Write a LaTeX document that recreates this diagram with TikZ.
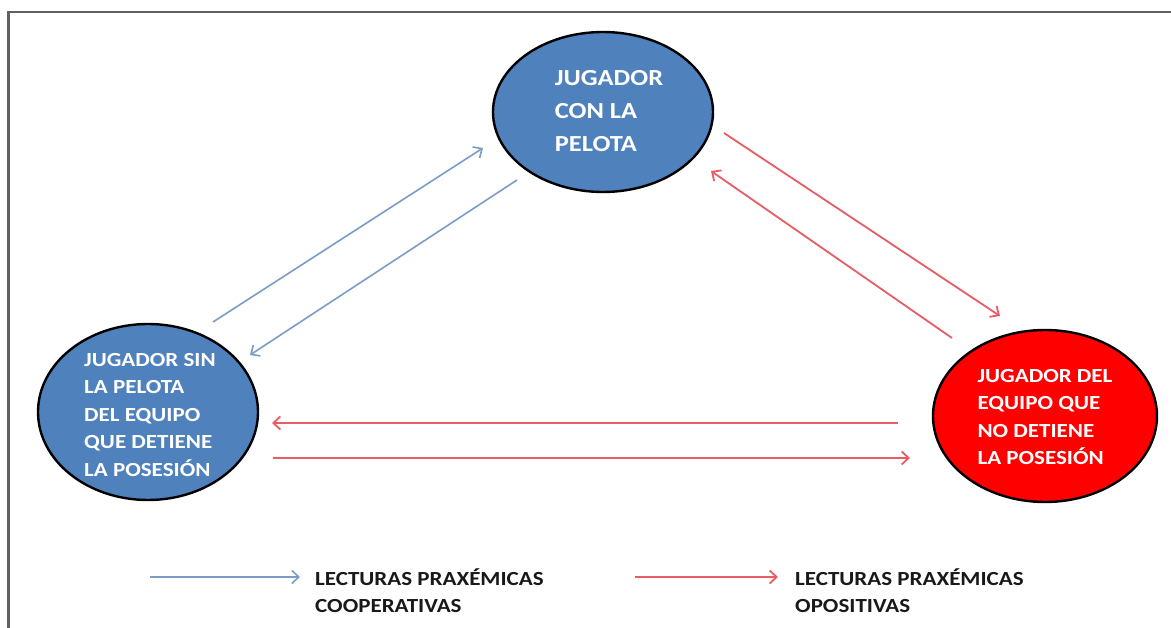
\documentclass[tikz,border=0pt]{standalone}
\usepackage{fontspec}
\setmainfont{Carlito}
\newfontfamily\calb[FakeStretch=1.15]{Carlito}
\usetikzlibrary{arrows.meta,calc,shapes.geometric}
\definecolor{ellblue}{RGB}{79,129,189}
\definecolor{ellred}{RGB}{255,0,0}
\definecolor{arrblue}{RGB}{122,156,200}
\definecolor{arrred}{RGB}{232,92,100}
\definecolor{frame}{RGB}{96,96,96}
\definecolor{legtext}{RGB}{25,25,25}
\tikzset{
  ell/.style={ellipse, draw=black, line width=2.4pt, inner sep=0pt},
  bigtxt/.style={align=left, inner sep=0pt, text=white, font=\calb\bfseries\fontsize{23}{33}\selectfont},
  smalltxt/.style={align=left, inner sep=0pt, text=white, font=\calb\bfseries\fontsize{20}{27.5}\selectfont},
  legtxt/.style={align=left, inner sep=0pt, text=legtext, anchor=west, font=\calb\bfseries\fontsize{20}{27}\selectfont},
  coop/.style={draw=arrblue, line width=1.6pt, -{Straight Barb[length=7pt,width=13pt]}},
  opos/.style={draw=arrred, line width=1.8pt, -{Straight Barb[length=7pt,width=13pt]}},
}
\begin{document}
\begin{tikzpicture}[x=1pt,y=1pt]
\useasboundingbox (0,0) rectangle (1171,-628);
\fill[white] (0,0) rectangle (1171,-628);
% frame (top and left edges visible)
\draw[frame, line width=2.5pt] (8.5,-640) -- (8.5,-12) -- (1180,-12);

% ellipses
\node[ell, fill=ellblue, minimum width=220pt, minimum height=160pt] (T) at (603,-112) {};
\node[ell, fill=ellblue, minimum width=220pt, minimum height=176pt] (L) at (148,-412) {};
\node[ell, fill=ellred, minimum width=224pt, minimum height=172pt] (R) at (1045,-416) {};

\node[bigtxt] (Tt) at ($(T)+(6,1)$) {JUGADOR\\CON LA\\PELOTA};
\node[smalltxt] (Lt) at ($(L)+(2,-3)$) {JUGADOR SIN\\LA PELOTA\\DEL EQUIPO\\QUE DETIENE\\LA POSESIÓN};
\node[smalltxt] (Rt) at ($(R)+(0,-1)$) {JUGADOR DEL\\EQUIPO QUE\\NO DETIENE\\LA POSESIÓN};

% connector end points
\coordinate (c1s) at ($(L)+(65,90)$);
\coordinate (c1e) at ($(T)+(-120,-36)$);
\coordinate (c2s) at ($(T)+(-86,-68)$);
\coordinate (c2e) at ($(L)+(102,57)$);
\coordinate (r1s) at ($(T)+(121,-21)$);
\coordinate (r1e) at ($(R)+(-45,100)$);
\coordinate (r2s) at ($(R)+(-93,78)$);
\coordinate (r2e) at ($(T)+(108,-59)$);
\coordinate (r3s) at ($(R)+(-147,-7)$);
\coordinate (r3e) at ($(L)+(124,-11)$);
\coordinate (r4s) at ($(L)+(125,-46)$);
\coordinate (r4e) at ($(R)+(-135,-42)$);

\draw[coop] (c1s) -- (c1e);
\draw[coop] (c2s) -- (c2e);
\draw[opos] (r1s) -- (r1e);
\draw[opos] (r2s) -- (r2e);
\draw[opos] (r3s) -- (r3e);
\draw[opos] (r4s) -- (r4e);

% legend
\node[legtxt] (lg1) at (315,-591) {LECTURAS PRAXÉMICAS\\COOPERATIVAS};
\node[legtxt] (lg2) at (795,-591) {LECTURAS PRAXÉMICAS\\OPOSITIVAS};
\coordinate (lb1) at ($(lg1.west)+(-165,14)$);
\coordinate (lb2) at ($(lg1.west)+(-15,14)$);
\coordinate (lr1) at ($(lg2.west)+(-160,14)$);
\coordinate (lr2) at ($(lg2.west)+(-17,14)$);
\draw[coop] (lb1) -- (lb2);
\draw[opos] (lr1) -- (lr2);
\end{tikzpicture}
\end{document}
